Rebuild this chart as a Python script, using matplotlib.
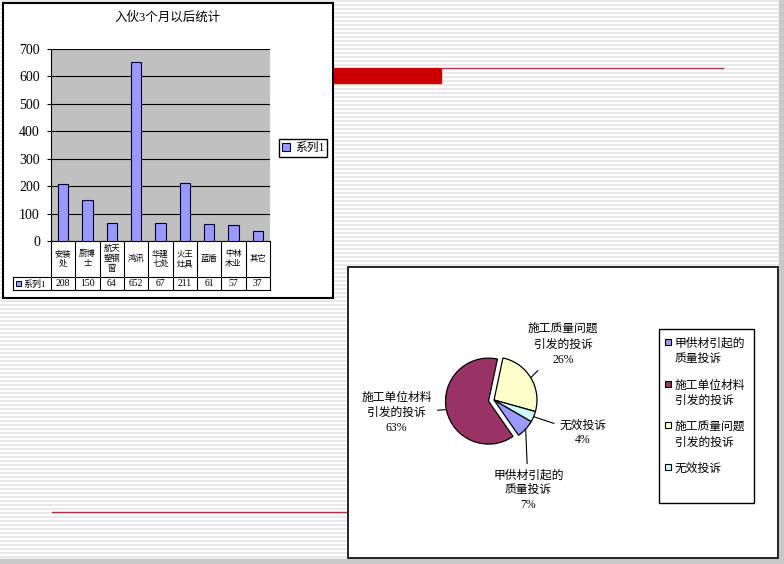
import numpy as np
import matplotlib
matplotlib.use("Agg")
import matplotlib.pyplot as plt
from matplotlib.patches import Rectangle

plt.rcParams['font.family'] = ['Liberation Serif', 'Noto Sans CJK SC', 'DejaVu Sans']

# bar chart data
bar_title = "入伙3个月以后统计"
series_name = "系列1"
categories = ["安装\n处", "厨博\n士", "航天\n塑钢\n窗", "鸿讯", "华建\n七处",
              "火王\n灶具", "蓝盾", "中林\n木业", "其它"]
counts = [208, 150, 64, 652, 67, 211, 61, 57, 37]
y_ticks = [0, 100, 200, 300, 400, 500, 600, 700]

# pie chart data
pie_labels = ["甲供材引起的\n质量投诉", "施工单位材料\n引发的投诉",
              "施工质量问题\n引发的投诉", "无效投诉"]
pie_values = [7, 63, 26, 4]
pie_colors = ["#9999ff", "#993366", "#ffffcc", "#ccffff"]

W, H = 784, 564


def fbox(x0, y0, x1, y1):
    # pixel box (top-left origin) -> figure fraction rect
    return [x0 / W, 1 - y1 / H, (x1 - x0) / W, (y1 - y0) / H]


fig = plt.figure(figsize=(W / 100, H / 100), dpi=100)

# slide background
bg = fig.add_axes([0, 0, 1, 1])
bg.set_xlim(0, W)
bg.set_ylim(H, 0)
bg.axis('off')
bg.hlines(np.arange(1, H, 4), 0, W, color='#e3e3e3', lw=1.1, zorder=1)
bg.add_patch(Rectangle((779, 0), 5, H, color='#c8c8c8', zorder=3))
bg.add_patch(Rectangle((0, 559), W, 5, color='#c8c8c8', zorder=3))
bg.add_patch(Rectangle((333, 68), 108, 15, color='#cc0000', zorder=3))
bg.plot([441, 723], [68, 68], color='#a04050', lw=1.0, zorder=3)
bg.plot([52, 348], [512, 512], color='#b03048', lw=1.0, zorder=3)
bg.add_patch(Rectangle((3, 3), 330, 295, facecolor='white', edgecolor='black', lw=1.5, zorder=4))
bg.add_patch(Rectangle((348, 267), 430, 291, facecolor='white', edgecolor='black', lw=1.2, zorder=4))

# ---- bar chart ----
ax = fig.add_axes(fbox(51, 49, 270, 241))
x = np.arange(len(categories))
bars = ax.bar(x, counts, width=0.42, color='#9999ff', edgecolor='#000033', lw=0.8,
              zorder=3, label=series_name)
ax.set_facecolor('#c0c0c0')
ax.set_xlim(-0.5, len(categories) - 0.5)
ax.set_ylim(0, 700)
ax.set_yticks(y_ticks)
ax.tick_params(axis='y', labelsize=10, length=3, pad=5)
ax.set_xticks([])
ax.yaxis.grid(True, color='black', lw=0.8)
ax.set_axisbelow(True)
for s in ['top', 'right']:
    ax.spines[s].set_visible(False)
ax.spines['left'].set_color('black')
ax.spines['bottom'].set_color('black')
fig.text(168 / W, 1 - 18 / H, bar_title, ha='center', va='center', fontsize=9)

# data table under the bars
tr = ax.get_xaxis_transform()
y1 = -36 / 192
y2 = -49 / 192
xh = -0.5 - 38 / (219 / len(categories))
line_kw = dict(color='black', lw=0.8, transform=tr, clip_on=False)
for i in range(len(categories) + 1):
    ax.plot([i - 0.5, i - 0.5], [0, y2], **line_kw)
ax.plot([xh, len(categories) - 0.5], [y1, y1], **line_kw)
ax.plot([xh, len(categories) - 0.5], [y2, y2], **line_kw)
ax.plot([xh, xh], [y1, y2], **line_kw)
for i, (c, v) in enumerate(zip(categories, counts)):
    ax.text(i, y1 / 2, c, ha='center', va='center', fontsize=6, linespacing=1.25,
            transform=tr, clip_on=False)
    ax.text(i, (y1 + y2) / 2, str(v), ha='center', va='center', fontsize=7,
            transform=tr, clip_on=False)
bg.add_patch(Rectangle((16, 281), 5, 5, facecolor='#9999ff', edgecolor='#000033', lw=0.7, zorder=5))
bg.text(23, 284, series_name, ha='left', va='center', fontsize=6.5, zorder=5)

ax.legend(loc='upper left', bbox_to_anchor=(279 / W, 1 - 139 / H),
          bbox_transform=fig.transFigure, fancybox=False, edgecolor='black',
          framealpha=1, fontsize=8.5, handlelength=0.7, handleheight=0.7,
          handletextpad=0.4, borderpad=0.25, borderaxespad=0)

# ---- pie chart ----
pax = fig.add_axes(fbox(424, 330, 564, 470))
r = 0.614
wedges, _ = pax.pie(pie_values, colors=pie_colors, radius=r, startangle=-30,
                    counterclock=False, explode=[0, 0.08, 0, 0],
                    wedgeprops=dict(edgecolor='black', lw=0.9))
pax.set_xlim(-1, 1)
pax.set_ylim(-1, 1)
pax.set_aspect('equal')
pax.axis('off')

label_pos = [(0.49, -1.29), (-1.39, -0.19), (0.99, 0.79), (1.27, -0.47)]
total = sum(pie_values)
for w, lab, v, (tx, ty) in zip(wedges, pie_labels, pie_values, label_pos):
    ang = np.deg2rad((w.theta1 + w.theta2) / 2)
    cx, cy = w.center
    ex, ey = cx + r * np.cos(ang), cy + r * np.sin(ang)
    pax.annotate(f"{lab}\n{round(100 * v / total)}%", xy=(ex, ey), xytext=(tx, ty),
                 ha='center', va='center', fontsize=8.5, linespacing=1.35,
                 annotation_clip=False,
                 arrowprops=dict(arrowstyle='-', color='black', lw=0.8,
                                 shrinkA=2, shrinkB=0))

# pie legend
bg.add_patch(Rectangle((659, 329), 95, 174, facecolor='white', edgecolor='black', lw=1.0, zorder=5))
for i, (lab, col) in enumerate(zip(pie_labels, pie_colors)):
    top = 339 + i * 41.7
    bg.add_patch(Rectangle((665, top), 6, 6, facecolor=col, edgecolor='black', lw=0.8, zorder=6))
    bg.text(675, top - 1, lab, ha='left', va='top', fontsize=8.5, linespacing=1.35, zorder=6)

fig.savefig("out.png", dpi=100)
